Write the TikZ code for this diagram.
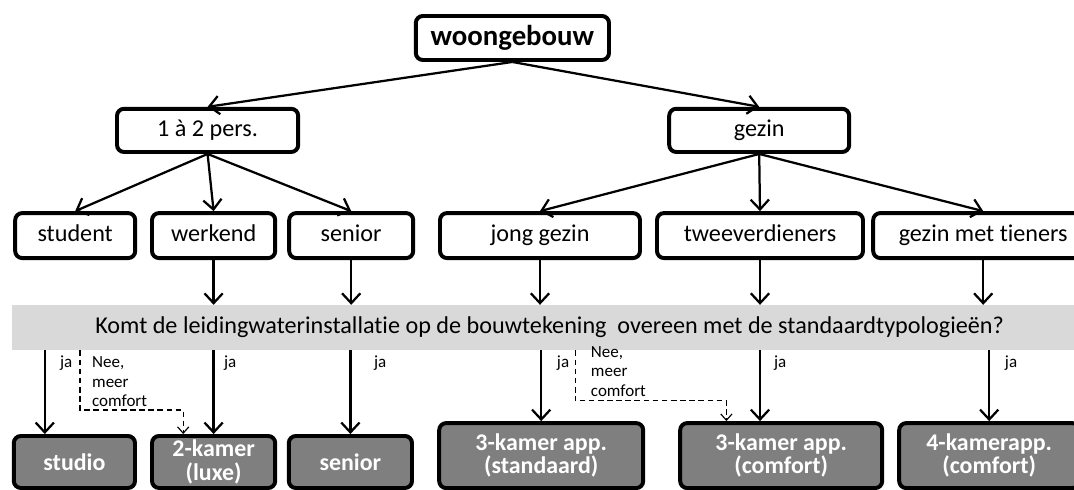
\documentclass[tikz,border=0pt]{standalone}
\usepackage{fontspec}
\setmainfont{Carlito}[Ligatures=NoCommon]
\usetikzlibrary{arrows.meta}
\definecolor{balkgrijs}{HTML}{D9D9D9}
\definecolor{typegrijs}{HTML}{7F7F7F}

\begin{document}
\begin{tikzpicture}[font=\fontsize{17.2}{19}\selectfont,
  bx/.style={draw=black, line width=2.8pt, rounded corners=5pt, fill=white, inner sep=0pt,
             text height=12pt, text depth=3.5pt},
  uitk/.style={draw=black, line width=2.8pt, rounded corners=5pt, inner sep=0pt,
               fill=typegrijs, text=white, align=center,
               font=\fontsize{17}{16.5}\selectfont\bfseries},
  pijl/.style={line width=1.6pt, -{Straight Barb[length=7pt,width=13pt]}},
  nee/.style={line width=0.8pt, dash pattern=on 4pt off 2.5pt,
              -{Straight Barb[length=4.5pt,width=8pt]}},
  klein/.style={font=\fontsize{12.1}{13.9}\selectfont, align=left, anchor=west},
]
  \useasboundingbox (0,0) rectangle (26.85,12.25);

  % bovenste twee lagen
  \node[bx, minimum width=4.83cm, minimum height=1.1cm, text height=14pt, text depth=4pt,
        font=\fontsize{20.5}{24}\selectfont\bfseries] (gebouw) at (12.81,11.30) {woongebouw};
  \node[bx, minimum width=4.53cm, minimum height=1.08cm] (pers) at (5.19,8.99) {1 à 2 pers.};
  \node[bx, minimum width=4.50cm, minimum height=1.08cm] (gezin) at (18.98,8.99) {gezin};

  \node[bx, minimum width=3.00cm, minimum height=1.125cm] (student) at (1.88,6.36) {student};
  \node[bx, minimum width=3.08cm, minimum height=1.125cm] (werkend) at (5.34,6.36) {werkend};
  \node[bx, minimum width=3.10cm, minimum height=1.125cm] (senior) at (8.78,6.36) {senior};
  \node[bx, minimum width=5.00cm, minimum height=1.125cm] (jong) at (13.50,6.36) {jong gezin};
  \node[bx, minimum width=5.15cm, minimum height=1.125cm] (twee) at (19.00,6.36) {tweeverdieners};
  \node[bx, minimum width=5.50cm, minimum height=1.125cm] (tieners) at (24.58,6.36) {gezin met tieners};

  % grijze balk met de vraag
  \node[fill=balkgrijs, minimum width=26.88cm, minimum height=1.125cm, inner sep=0pt] (balk) at (13.74,4.06)
       {Komt de leidingwaterinstallatie op de bouwtekening~ overeen met de standaardtypologieën?};

  % typologieën onderaan
  \node[uitk, minimum width=3.03cm, minimum height=1.30cm] (studio) at (1.86,0.70) {studio};
  \node[uitk, minimum width=3.08cm, minimum height=1.30cm] (kamer2) at (5.34,0.70) {2-kamer\\(luxe)};
  \node[uitk, minimum width=3.08cm, minimum height=1.30cm] (sen) at (8.76,0.70) {senior};
  \node[uitk, minimum width=5.10cm, minimum height=1.625cm] (std) at (13.53,0.86) {3-kamer app.\\(standaard)};
  \node[uitk, minimum width=5.05cm, minimum height=1.625cm] (comf) at (19.53,0.86) {3-kamer app.\\(comfort)};
  \node[uitk, minimum width=4.50cm, minimum height=1.625cm] (vier) at (24.73,0.86) {4-kamerapp.\\(comfort)};

  \draw[pijl] (gebouw.south) -- (pers.north);
  \draw[pijl] (gebouw.south) -- (gezin.north);
  \draw[pijl] (pers.south) -- (student.north);
  \draw[pijl] (pers.south) -- (werkend.north);
  \draw[pijl] (pers.south) -- (senior.north);
  \draw[pijl] (gezin.south) -- (jong.north);
  \draw[pijl] (gezin.south) -- (twee.north);
  \draw[pijl] (gezin.south) -- (tieners.north);

  \foreach \n in {werkend, senior, jong, twee, tieners}
    \draw[pijl] (\n.south) -- (\n.south |- balk.north);

  \draw[pijl] ([xshift=-0.74cm]studio.north |- balk.south) -- ([xshift=-0.74cm]studio.north);
  \draw[pijl] (kamer2.north |- balk.south) -- (kamer2.north);
  \draw[pijl] (sen.north |- balk.south) -- (sen.north);
  \draw[pijl] (std.north |- balk.south) -- (std.north);
  \draw[pijl] (twee.south |- balk.south) -- (twee.south |- comf.north);
  \draw[pijl] (vier.north |- balk.south) -- (vier.north);

  % "nee" -> meer comfort
  \coordinate (nee1) at (2.00,2.00);
  \coordinate (nee2) at (14.38,2.23);
  \draw[nee] (balk.south -| nee1) -- (nee1) -| ([xshift=-0.76cm]kamer2.north);
  \draw[nee] (balk.south -| nee2) -- (nee2) -| ([xshift=-1.37cm]comf.north);

  \node[klein] (ja1) at (1.38,3.18) {ja};
  \node[klein] (ja2) at (5.48,3.18) {ja};
  \node[klein] (ja3) at (9.23,3.18) {ja};
  \node[klein] (ja4) at (13.80,3.18) {ja};
  \node[klein] (ja5) at (19.23,3.18) {ja};
  \node[klein] (ja6) at (25.00,3.18) {ja};
  \node[klein] (nee1txt) at (2.18,2.70) {Nee,\\meer\\comfort};
  \node[klein] (nee2txt) at (14.65,2.96) {Nee,\\meer\\comfort};
\end{tikzpicture}
\end{document}
